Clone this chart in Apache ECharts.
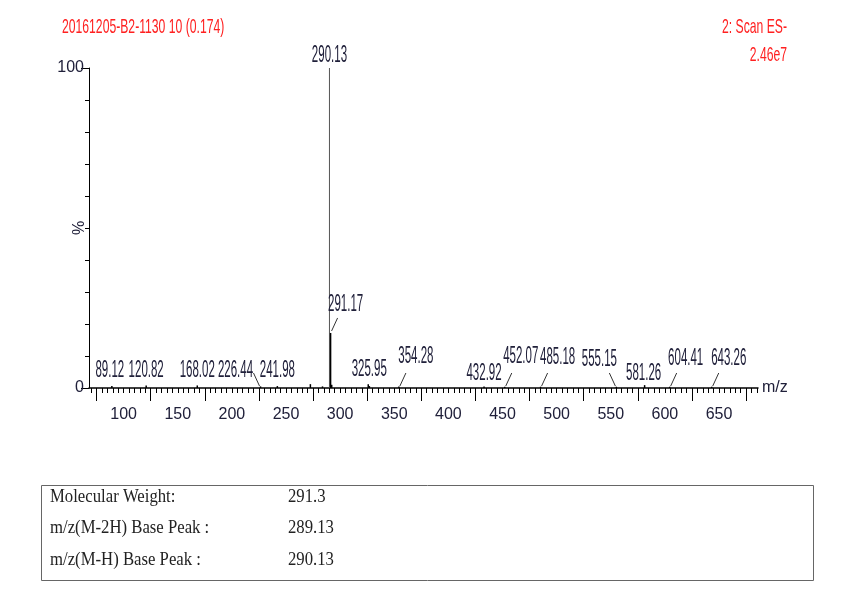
<!DOCTYPE html>
<html>
<head>
<meta charset="utf-8">
<script src="https://cdn.jsdelivr.net/npm/echarts@6/dist/echarts.min.js"></script>
<style>
html,body{margin:0;padding:0;background:#fff;}
#main{width:845px;height:611px;}
</style>
</head>
<body>
<div id="main"></div>
<script>
// spectrum peaks (m/z, relative intensity %)
var peakMz  = [89.12, 120.82, 168.02, 226.44, 241.98, 272.5, 283.7, 290.13, 291.17, 292.2, 325.95, 327.0, 354.28, 432.92, 452.07, 485.18, 555.15, 581.26, 604.41, 643.26];
var peakInt = [0.6,   0.8,    0.8,    0.5,    0.6,    1.2,   0.5,   100,    17.2,   1.0,   1.2,    0.6,   0.5,    0.5,    0.4,    0.4,    0.4,    0.9,    0.4,    0.4];
// peaks carrying a label
var labelMz = [89.12, 120.82, 168.02, 226.44, 241.98, 290.13, 291.17, 325.95, 354.28, 432.92, 452.07, 485.18, 555.15, 581.26, 604.41, 643.26];
// tick labels
var xTickLabels = [100, 150, 200, 250, 300, 350, 400, 450, 500, 550, 600, 650];
var xLongTicks = [75, 125, 175, 225, 275, 325, 375, 425, 475, 525, 575, 625, 675];
var yTickLabels = [0, 100];

// label placement: [dx, rise, anchor, leader]
var labelLayout = {
  '89.12':  [-2, 17, 'base', 0],
  '120.82': [0, 17, 'base', 0],
  '168.02': [0, 17, 'base', 0],
  '226.44': [-25, 17, 'base', 1],
  '241.98': [0, 17, 'base', 0],
  '290.13': [0, 12, 'top', 0],
  '291.17': [15, 28, 'top', 1],
  '325.95': [1, 18, 'base', 0],
  '354.28': [17, 31, 'base', 1],
  '432.92': [0, 14, 'base', 0],
  '452.07': [16, 31, 'base', 1],
  '485.18': [17, 30, 'base', 1],
  '555.15': [-17, 28, 'base', 1],
  '581.26': [-1, 14, 'base', 0],
  '604.41': [16, 29, 'base', 1],
  '643.26': [17, 29, 'base', 1]
};

var minorTicks = [];
for (var t = 70; t <= 685; t += 5) minorTicks.push(t);

var txtColor = '#20203a';
var axisFont = {color: txtColor, fontFamily: 'Liberation Sans', fontSize: 16};
var data = peakMz.map(function (m, i) {
  return [m, peakInt[i], labelMz.indexOf(m)];
});

var myChart = echarts.init(document.getElementById('main'));
myChart.setOption({
  animation: false,
  grid: {left: 89, right: 87, top: 68, bottom: 223},
  xAxis: [{
    type: 'value', min: 68, max: 686,
    name: 'm/z', nameLocation: 'end', nameGap: 4,
    nameTextStyle: axisFont,
    splitLine: {show: false},
    axisLine: {lineStyle: {color: '#000', width: 1.5}},
    axisTick: {customValues: xLongTicks, length: 13, lineStyle: {color: '#000'}},
    axisLabel: Object.assign({customValues: xTickLabels, margin: 19}, axisFont)
  }, {
    type: 'value', min: 68, max: 686, position: 'bottom',
    splitLine: {show: false},
    axisLine: {show: false},
    axisTick: {customValues: minorTicks, length: 5, lineStyle: {color: '#000'}},
    axisLabel: {show: false}
  }],
  yAxis: [{
    type: 'value', min: 0, max: 100, interval: 10,
    name: '%', nameLocation: 'middle', nameGap: 1, nameRotate: 90,
    nameMoveOverlap: false,
    nameTextStyle: axisFont,
    splitLine: {show: false},
    axisLine: {show: true, lineStyle: {color: '#000', width: 1}},
    axisTick: {length: 4, lineStyle: {color: '#000'}},
    axisLabel: Object.assign({customValues: yTickLabels, margin: 5}, axisFont)
  }, {
    type: 'value', min: 0, max: 100, position: 'left',
    splitLine: {show: false},
    axisLine: {show: false},
    axisTick: {show: true, customValues: yTickLabels, length: 8, lineStyle: {color: '#000'}},
    axisLabel: {show: false}
  }],
  series: [{
    type: 'custom',
    xAxisIndex: 0, yAxisIndex: 0,
    clip: false,
    data: data,
    renderItem: function (params, api) {
      var mz = api.value(0), it = api.value(1), li = api.value(2);
      var base = api.coord([mz, 0]);
      var top = api.coord([mz, it]);
      var kids = [{
        type: 'line',
        shape: {x1: base[0], y1: base[1], x2: top[0], y2: top[1]},
        style: {stroke: it > 50 ? '#555' : '#000', lineWidth: it > 50 ? 1 : 1.5}
      }];
      if (li >= 0) {
        var key = labelMz[li].toFixed(2);
        var L = labelLayout[key];
        var a = L[2] === 'top' ? top : base;
        var tx = a[0] + L[0], ty = a[1] - L[1];
        kids.push({
          type: 'text', x: tx, y: ty, scaleX: 0.5,
          style: {text: key, fill: txtColor, font: '23px "Liberation Sans"', align: 'center', verticalAlign: 'middle'}
        });
        if (L[3]) {
          var s = L[0] > 0 ? 1 : -1;
          kids.push({
            type: 'line',
            shape: {x1: a[0] + s, y1: a[1] - 2, x2: a[0] + s * 7, y2: a[1] - 15},
            style: {stroke: '#333', lineWidth: 1}
          });
        }
      }
      return {type: 'group', children: kids};
    }
  }],
  graphic: [
    {type: 'text', x: 62, y: 27, scaleX: 0.58,
     style: {text: '20161205-B2-1130 10 (0.174)', fill: '#ff2020', font: '21px "Liberation Sans"', verticalAlign: 'middle'}},
    {type: 'text', x: 787, y: 27, scaleX: 0.58,
     style: {text: '2: Scan ES-', fill: '#ff2020', font: '21px "Liberation Sans"', align: 'right', verticalAlign: 'middle'}},
    {type: 'text', x: 787, y: 55, scaleX: 0.58,
     style: {text: '2.46e7', fill: '#ff2020', font: '21px "Liberation Sans"', align: 'right', verticalAlign: 'middle'}},
    {type: 'rect', shape: {x: 41.5, y: 485.5, width: 772, height: 95},
     style: {fill: 'none', stroke: '#666', lineWidth: 1}},
    {type: 'text', x: 50, y: 497, scaleX: 0.88, style: {text: 'Molecular Weight:', fill: '#222', font: '19px "Liberation Serif"', verticalAlign: 'middle'}},
    {type: 'text', x: 288, y: 497, scaleX: 0.88, style: {text: '291.3', fill: '#222', font: '19px "Liberation Serif"', verticalAlign: 'middle'}},
    {type: 'text', x: 50, y: 528, scaleX: 0.88, style: {text: 'm/z(M-2H) Base Peak :', fill: '#222', font: '19px "Liberation Serif"', verticalAlign: 'middle'}},
    {type: 'text', x: 288, y: 528, scaleX: 0.88, style: {text: '289.13', fill: '#222', font: '19px "Liberation Serif"', verticalAlign: 'middle'}},
    {type: 'text', x: 50, y: 560, scaleX: 0.88, style: {text: 'm/z(M-H) Base Peak :', fill: '#222', font: '19px "Liberation Serif"', verticalAlign: 'middle'}},
    {type: 'text', x: 288, y: 560, scaleX: 0.88, style: {text: '290.13', fill: '#222', font: '19px "Liberation Serif"', verticalAlign: 'middle'}}
  ]
});
</script>
</body>
</html>
